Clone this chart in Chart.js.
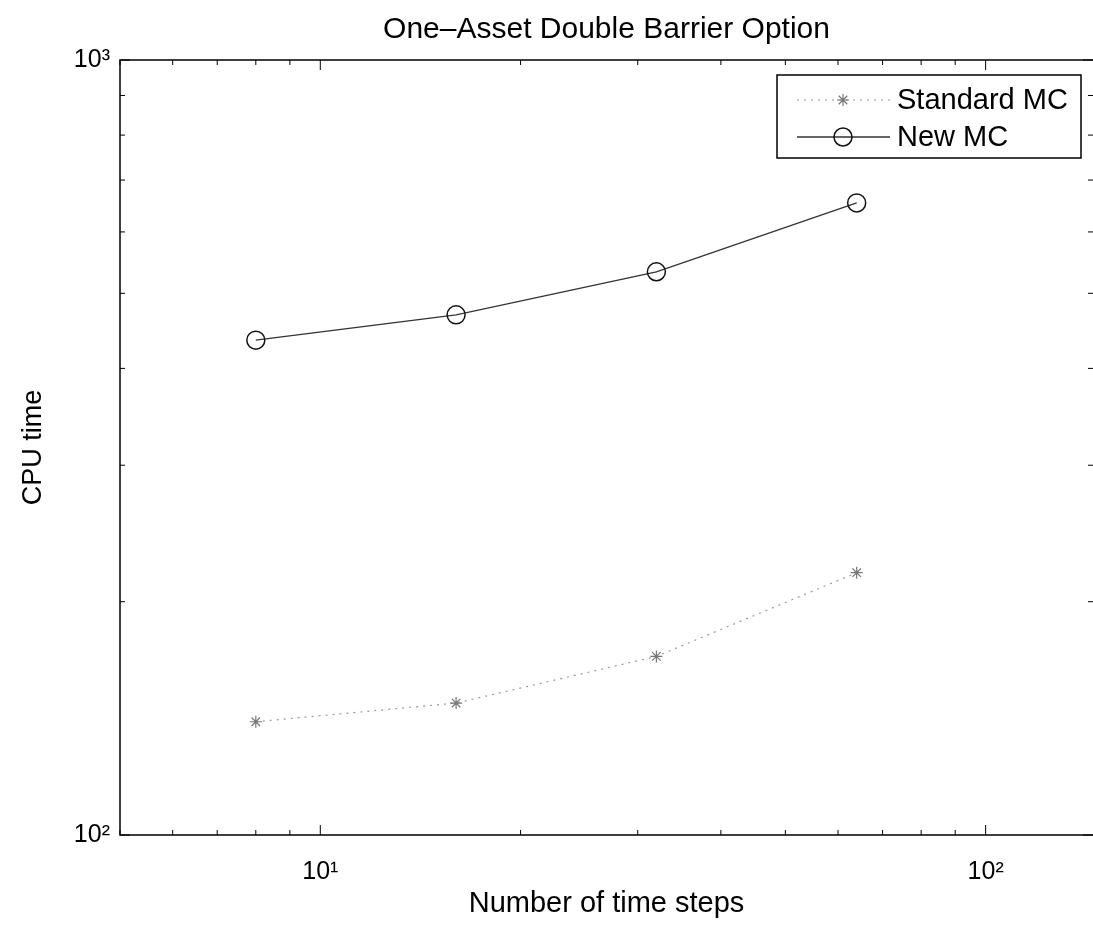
<!DOCTYPE html>
<html>
<head>
<meta charset="utf-8">
<style>
  html, body { margin: 0; padding: 0; background: #fff; overflow: hidden; }
  #wrap { width: 1093px; height: 929px; position: relative; }
</style>
<script src="https://cdn.jsdelivr.net/npm/chart.js@4/dist/chart.umd.min.js"></script>
</head>
<body>
<div id="wrap"><canvas id="cpuChart"></canvas></div>
<script>
// time steps (x) and CPU time (y)
const steps = [8, 16, 32, 64];
const standardMC = [140, 148, 170, 218];
const newMC = [435, 469, 533, 654];
const seriesLabels = ['Standard MC', 'New MC'];
const supers = { '1': '\u00b9', '2': '\u00b2', '3': '\u00b3' };

const FONT = '"Liberation Sans", Arial, Helvetica, sans-serif';

function powerLabel(v) {
    const e = Math.log10(v);
    if (Math.abs(e - Math.round(e)) > 1e-9) return '';
    return '10' + supers[String(Math.round(e))];
}

// inward tick marks, box frame and legend
const matlabAxes = {
    id: 'matlabAxes',
    afterDraw(chart) {
        const ctx = chart.ctx;
        const a = chart.chartArea;
        const xs = chart.scales.x, ys = chart.scales.y;
        ctx.save();
        ctx.strokeStyle = '#000';
        ctx.lineWidth = 1.5;
        ctx.beginPath();
        ctx.moveTo(a.right, a.top);
        ctx.lineTo(a.left, a.top);
        ctx.lineTo(a.left, a.bottom);
        ctx.lineTo(a.right, a.bottom);
        ctx.stroke();

        ctx.lineWidth = 1;
        const isMajor = v => Math.abs(Math.log10(v) - Math.round(Math.log10(v))) < 1e-9;
        const isWhole = v => {
            const m = v / Math.pow(10, Math.floor(Math.log10(v) + 1e-9));
            return Math.abs(m - Math.round(m)) < 1e-6;
        };
        ctx.beginPath();
        xs.ticks.forEach(t => {
            if (!isWhole(t.value)) return;
            const px = xs.getPixelForValue(t.value);
            const len = isMajor(t.value) ? 10 : 5;
            ctx.moveTo(px, a.bottom); ctx.lineTo(px, a.bottom - len);
            ctx.moveTo(px, a.top); ctx.lineTo(px, a.top + len);
        });
        ys.ticks.forEach(t => {
            if (!isWhole(t.value)) return;
            const py = ys.getPixelForValue(t.value);
            const len = isMajor(t.value) ? 10 : 5;
            ctx.moveTo(a.left, py); ctx.lineTo(a.left + len, py);
            ctx.moveTo(a.right, py); ctx.lineTo(a.right - len, py);
        });
        ctx.stroke();

        // legend box
        const bw = 304, bh = 83;
        const bx = a.right - 12 - bw, by = a.top + 15;
        ctx.fillStyle = '#fff';
        ctx.fillRect(bx, by, bw, bh);
        ctx.lineWidth = 1.5;
        ctx.strokeRect(bx, by, bw, bh);
        ctx.font = '29px ' + FONT;
        ctx.textBaseline = 'middle';
        ctx.textAlign = 'left';
        chart.data.datasets.forEach((ds, i) => {
            const cy = by + 25 + i * 37;
            const x0 = bx + 20, x1 = bx + 113, mx = bx + 66;
            ctx.save();
            ctx.strokeStyle = ds.borderColor;
            ctx.lineWidth = ds.borderWidth;
            ctx.setLineDash(ds.borderDash || []);
            ctx.beginPath();
            ctx.moveTo(x0, cy); ctx.lineTo(x1, cy);
            ctx.stroke();
            ctx.restore();
            ctx.save();
            ctx.strokeStyle = ds.pointBorderColor;
            ctx.fillStyle = 'rgba(0,0,0,0)';
            ctx.lineWidth = ds.pointBorderWidth;
            Chart.helpers.drawPoint(ctx, { pointStyle: ds.pointStyle, radius: ds.pointRadius, borderWidth: ds.pointBorderWidth, rotation: 0 }, mx, cy);
            ctx.restore();
            ctx.fillStyle = '#000';
            ctx.fillText(ds.label, bx + 120, cy + 1);
        });
        ctx.restore();
    }
};

const ctx = document.getElementById('cpuChart').getContext('2d');
new Chart(ctx, {
    type: 'line',
    data: {
        labels: steps,
        datasets: [{
            label: seriesLabels[0],
            data: steps.map((s, i) => ({ x: s, y: standardMC[i] })),
            borderColor: '#9a9a9a',
            borderWidth: 1.2,
            borderDash: [2, 5],
            pointStyle: 'star',
            pointRadius: 6,
            pointBorderWidth: 1.2,
            pointBorderColor: '#777',
            pointBackgroundColor: 'transparent',
            tension: 0
        }, {
            label: seriesLabels[1],
            data: steps.map((s, i) => ({ x: s, y: newMC[i] })),
            borderColor: '#333',
            borderWidth: 1.3,
            pointStyle: 'circle',
            pointRadius: 9,
            pointBorderWidth: 1.5,
            pointBorderColor: '#111',
            pointBackgroundColor: 'transparent',
            tension: 0
        }]
    },
    options: {
        responsive: true,
        maintainAspectRatio: false,
        animation: false,
        layout: { padding: 0, autoPadding: false },
        plugins: {
            legend: { display: false },
            tooltip: { enabled: false },
            title: {
                display: true,
                text: 'One\u2013Asset Double Barrier Option',
                fullSize: false,
                color: '#000',
                font: { family: FONT, size: 30, weight: 'normal', lineHeight: 1.2 },
                padding: { top: 12, bottom: 12 }
            }
        },
        scales: {
            x: {
                type: 'logarithmic',
                min: 5,
                max: 145,
                grid: { display: false, drawTicks: false },
                border: { display: false },
                afterFit: s => { s.height = 94; s.paddingLeft = 0; s.paddingRight = 0; },
                ticks: {
                    autoSkip: false,
                    maxRotation: 0,
                    padding: 22,
                    color: '#000',
                    font: { family: FONT, size: 25 },
                    callback: v => powerLabel(v)
                },
                title: {
                    display: true,
                    text: 'Number of time steps',
                    color: '#000',
                    font: { family: FONT, size: 29 },
                    padding: { top: 0, bottom: 8 }
                }
            },
            y: {
                type: 'logarithmic',
                min: 100,
                max: 1000,
                grid: { display: false, drawTicks: false },
                border: { display: false },
                afterFit: s => { s.width = 120; s.paddingTop = 0; s.paddingBottom = 0; },
                ticks: {
                    autoSkip: false,
                    padding: 10,
                    color: '#000',
                    font: { family: FONT, size: 25 },
                    callback: v => powerLabel(v)
                },
                title: {
                    display: true,
                    text: 'CPU time',
                    color: '#000',
                    font: { family: FONT, size: 27 },
                    padding: { top: 17, bottom: 0 }
                }
            }
        }
    },
    plugins: [matlabAxes]
});
</script>
</body>
</html>
